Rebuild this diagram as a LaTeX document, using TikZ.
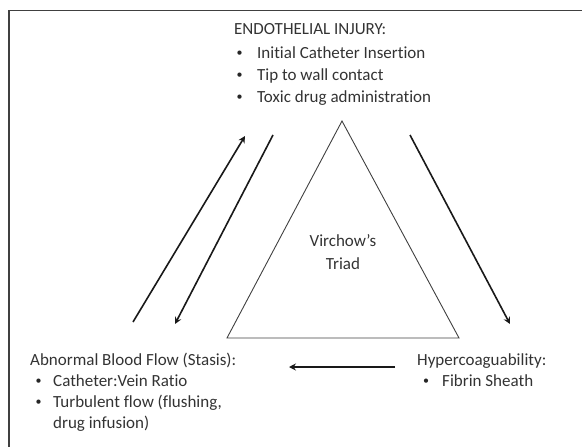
\documentclass[tikz,border=0pt]{standalone}
\usepackage{fontspec}
\setmainfont[Ligatures=NoCommon]{Carlito}
\usetikzlibrary{arrows.meta}
\begin{document}
\begin{tikzpicture}[x=1pt,y=-1pt,
  txt/.style={anchor=base west,inner sep=0pt,text=black!80,font=\fontsize{17}{20}\selectfont},
  bul/.style={anchor=base west,inner sep=0pt,text=black!85,font=\fontsize{12}{14}\selectfont,yshift=1.6pt},
  arr/.style={line width=1.6pt,draw=black!90,-{Stealth[length=7pt,width=7pt,inset=2.5pt]}},
  tri/.style={line width=0.9pt,draw=black!75}]
\useasboundingbox (0,0) rectangle (582,447);
% frame
\draw[line width=1.4pt,draw=black!75] (9,460) -- (9,10.5) -- (600,10.5);
% top text
\node[txt] (endo) at (234,34.5) {ENDOTHELIAL INJURY:};
\node[bul] (b1) at (236.5,58.5) {•}; \node[txt] (t1) at (257,58.5) {Initial Catheter Insertion};
\node[bul] (b2) at (236.5,80.5) {•}; \node[txt] (t2) at (257,80.5) {Tip to wall contact};
\node[bul] (b3) at (236.5,102.5) {•}; \node[txt] (t3) at (257,102.5) {Toxic drug administration};
% left bottom text
\node[txt] (abn) at (30,365.5) {Abnormal Blood Flow (Stasis):};
\node[bul] (b4) at (35.5,386.5) {•}; \node[txt] (t4) at (53,386.5) {Catheter:Vein Ratio};
\node[bul] (b5) at (35.5,407.5) {•}; \node[txt] (t5) at (53,407.5) {Turbulent flow (flushing,};
\node[txt] (t6) at (53,428.5) {drug infusion)};
% right bottom text
\node[txt] (hyp) at (417,365.5) {Hypercoaguability:};
\node[bul] (b6) at (423,386.5) {•}; \node[txt] (t7) at (442,386.5) {Fibrin Sheath};
% triangle
\coordinate (A) at (342,121);
\coordinate (B) at (227,338);
\coordinate (C) at (459,338);
\draw[tri] (A) -- (B) -- (C) -- cycle;
\node[anchor=base,inner sep=0pt,text=black!80,font=\fontsize{17}{20}\selectfont] (v1) at (343,246.5) {Virchow’s};
\node[anchor=base,inner sep=0pt,text=black!80,font=\fontsize{17}{20}\selectfont] (v2) at (343,269.5) {Triad};
% arrows
\coordinate (u1) at (133,322); \coordinate (u2) at (245,136);
\coordinate (d1) at (273,135); \coordinate (d2) at (175,324);
\coordinate (r1) at (410,135); \coordinate (r2) at (510,324);
\coordinate (h1) at (395,367); \coordinate (h2) at (289,367);
\draw[arr] (u1) -- (u2);
\draw[arr] (d1) -- (d2);
\draw[arr] (r1) -- (r2);
\draw[arr] (h1) -- (h2);
\end{tikzpicture}
\end{document}
